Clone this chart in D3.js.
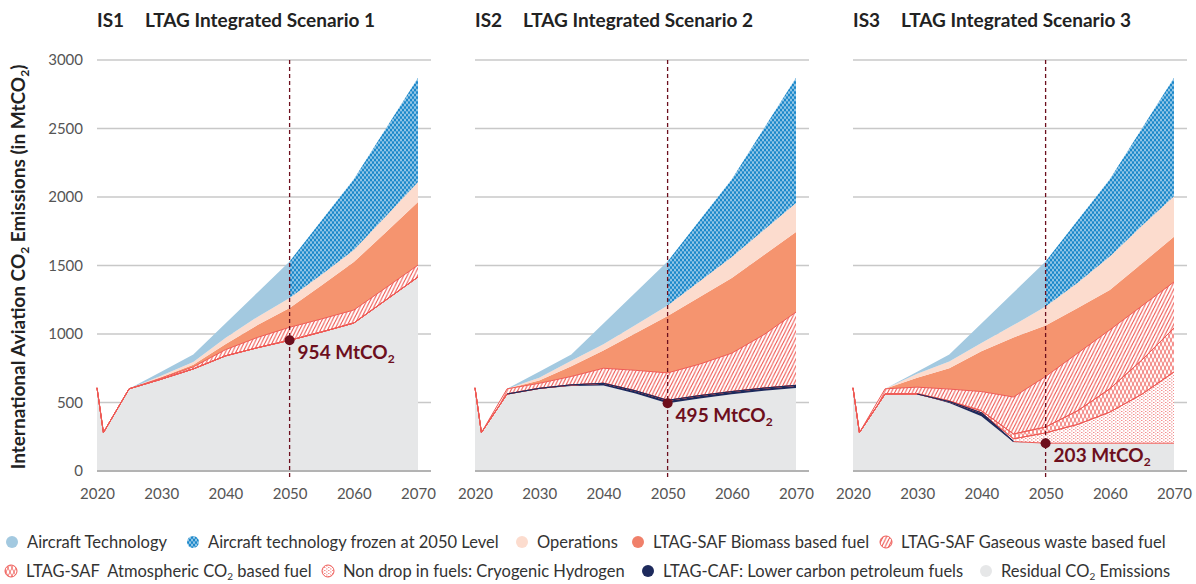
<!DOCTYPE html>
<html>
<head>
<meta charset="utf-8">
<script src="https://cdn.jsdelivr.net/npm/d3@7"></script>
<style>
  body { margin: 0; background: #fff; }
  svg { font-family: Lato, "Open Sans", sans-serif; }
</style>
</head>
<body>
<div id="chart"></div>
<script>
// years on the x axis
const years = [2020, 2021, 2025, 2030, 2035, 2040, 2045, 2050, 2055, 2060, 2065, 2070];

// IS1 layers (MtCO2), stacked bottom -> top
const is1Residual    = [607, 280, 600, 670, 745, 840, 900, 954, 1015, 1080, 1248, 1416];
const is1Caf         = [0, 0, 0, 0, 0, 0, 0, 0, 0, 0, 0, 0];
const is1Hydrogen    = [0, 0, 0, 0, 0, 0, 0, 0, 0, 0, 0, 0];
const is1Atmospheric = [0, 0, 0, 0, 0, 0, 0, 0, 0, 0, 0, 0];
const is1Gaseous     = [0, 0, 0, 8, 15, 45, 75, 95, 95, 95, 90, 87];
const is1Biomass     = [0, 0, 0, 7, 15, 40, 90, 140, 245, 350, 405, 461];
const is1Operations  = [0, 0, 0, 10, 20, 45, 60, 73, 80, 88, 117, 146];
const is1Aircraft    = [0, 0, 0, 30, 55, 107, 178, 268, 395, 517, 640, 760];

// IS2
const is2Residual    = [607, 280, 562, 600, 620, 625, 565, 495, 530, 560, 585, 605];
const is2Caf         = [0, 0, 0, 3, 8, 15, 20, 20, 20, 20, 20, 20];
const is2Hydrogen    = [0, 0, 0, 0, 0, 0, 0, 0, 0, 0, 0, 0];
const is2Atmospheric = [0, 0, 0, 0, 0, 0, 0, 0, 0, 0, 0, 0];
const is2Gaseous     = [0, 0, 38, 37, 62, 110, 150, 201, 230, 280, 390, 535];
const is2Biomass     = [0, 0, 0, 20, 75, 130, 270, 416, 490, 549, 582, 585];
const is2Operations  = [0, 0, 0, 20, 40, 45, 60, 76, 115, 153, 183, 211];
const is2Aircraft    = [0, 0, 0, 45, 45, 152, 238, 322, 445, 568, 740, 914];

// IS3
const is3Residual    = [607, 280, 562, 562, 496, 400, 212, 203, 203, 203, 203, 203];
const is3Caf         = [0, 0, 0, 0, 10, 25, 3, 0, 0, 0, 0, 0];
const is3Hydrogen    = [0, 0, 0, 0, 0, 0, 20, 75, 137, 227, 357, 520];
const is3Atmospheric = [0, 0, 0, 3, 6, 15, 35, 43, 100, 170, 250, 321];
const is3Gaseous     = [0, 0, 38, 47, 86, 140, 270, 369, 420, 430, 395, 336];
const is3Biomass     = [0, 0, 0, 68, 152, 295, 435, 372, 330, 292, 310, 329];
const is3Operations  = [0, 0, 0, 30, 50, 60, 90, 138, 185, 243, 275, 296];
const is3Aircraft    = [0, 0, 0, 15, 50, 142, 238, 330, 455, 565, 710, 865];

const scenarioCodes = ["IS1", "IS2", "IS3"];
const scenarioNames = ["LTAG Integrated Scenario 1", "LTAG Integrated Scenario 2", "LTAG Integrated Scenario 3"];
const residual2050 = [954, 495, 203];
const yTicks = [0, 500, 1000, 1500, 2000, 2500, 3000];
const xTicks = [2020, 2030, 2040, 2050, 2060, 2070];

const legendRow1 = ["Aircraft Technology", "Aircraft technology frozen at 2050 Level", "Operations",
                    "LTAG-SAF Biomass based fuel", "LTAG-SAF Gaseous waste based fuel"];
const legendRow2 = ["LTAG-SAF  Atmospheric CO|2| based fuel", "Non drop in fuels: Cryogenic Hydrogen",
                    "LTAG-CAF: Lower carbon petroleum fuels", "Residual CO|2| Emissions"];

const layerKeys = ["residual", "caf", "hydrogen", "atmospheric", "gaseous", "biomass", "operations", "aircraft"];
const scenarioLayers = [
  [is1Residual, is1Caf, is1Hydrogen, is1Atmospheric, is1Gaseous, is1Biomass, is1Operations, is1Aircraft],
  [is2Residual, is2Caf, is2Hydrogen, is2Atmospheric, is2Gaseous, is2Biomass, is2Operations, is2Aircraft],
  [is3Residual, is3Caf, is3Hydrogen, is3Atmospheric, is3Gaseous, is3Biomass, is3Operations, is3Aircraft]
];

const RED = "#ef5a55", NAVY = "#1d2a5c", MAROON = "#6d0f1d";
const fills = {
  residual: "#e6e7e8", caf: NAVY, hydrogen: "url(#h2)", atmospheric: "url(#atm)",
  gaseous: "url(#gw)", biomass: "#f5946f", operations: "#fcdcce", aircraft: "#a3c9e0"
};

const W = 1196, H = 584;
const svg = d3.select("#chart").append("svg").attr("width", W).attr("height", H);

/* patterns */
const defs = svg.append("defs");
const frozen = defs.append("pattern").attr("id", "frozen").attr("patternUnits", "userSpaceOnUse")
  .attr("width", 4).attr("height", 5);
frozen.append("rect").attr("width", 4).attr("height", 5).attr("fill", "#1b88ca");
[[0, 0], [4, 0], [0, 5], [4, 5], [2, 2.5]].forEach(p =>
  frozen.append("ellipse").attr("cx", p[0]).attr("cy", p[1]).attr("rx", 1).attr("ry", 1.5).attr("fill", "#9ccbe9"));

const gw = defs.append("pattern").attr("id", "gw").attr("patternUnits", "userSpaceOnUse")
  .attr("width", 3.5).attr("height", 7);
gw.append("rect").attr("width", 3.5).attr("height", 7).attr("fill", "#fff");
gw.append("path").attr("d", "M0,7L3.5,0M-3.5,7L0,0M3.5,7L7,0")
  .attr("stroke", RED).attr("stroke-width", 1.1);

const atm = defs.append("pattern").attr("id", "atm").attr("patternUnits", "userSpaceOnUse")
  .attr("width", 4).attr("height", 8);
atm.append("rect").attr("width", 4).attr("height", 8).attr("fill", "#fff");
atm.append("path").attr("d", "M0,8L4,0M-4,8L0,0M4,8L8,0M0,0L4,8M-4,0L0,8M4,0L8,8")
  .attr("stroke", RED).attr("stroke-width", 0.8);

const h2 = defs.append("pattern").attr("id", "h2").attr("patternUnits", "userSpaceOnUse")
  .attr("width", 4).attr("height", 3);
h2.append("rect").attr("width", 4).attr("height", 3).attr("fill", "#fff");
h2.append("rect").attr("x", 0).attr("y", 0).attr("width", 1.5).attr("height", 0.9).attr("fill", "#f28080");
h2.append("rect").attr("x", 2).attr("y", 1.5).attr("width", 1.5).attr("height", 0.9).attr("fill", "#f28080");

/* text with subscripts: parts split by "|" alternate normal/sub */
function subText(sel, str, subSize, shift) {
  str.split("|").forEach((part, i) => {
    const t = sel.append("tspan").text(part);
    if (i % 2 === 1) t.attr("font-size", subSize).attr("dy", shift);
    else if (i > 0) t.attr("dy", -shift);
  });
}

const y = d3.scaleLinear().domain([0, 3000]).range([471, 60]);
const panelLeft = [97, 475, 853];

scenarioCodes.forEach((code, si) => {
  const x = d3.scaleLinear().domain([2020, 2070]).range([0, 321]);
  const g = svg.append("g").attr("transform", `translate(${panelLeft[si]},0)`);

  // title
  g.append("text").attr("x", 0).attr("y", 27).attr("font-size", 19).attr("font-weight", 700)
    .attr("fill", "#222").text(code);
  g.append("text").attr("x", 48).attr("y", 27).attr("font-size", 19).attr("font-weight", 700)
    .attr("fill", "#222").text(scenarioNames[si]);

  // grid
  g.selectAll(".grid").data(yTicks.filter(v => v > 0)).enter().append("line")
    .attr("x1", 0).attr("x2", 334).attr("y1", d => y(d)).attr("y2", d => y(d))
    .attr("stroke", "#c8c8c8").attr("stroke-width", 1.3);

  // stacked data
  const rows = years.map((yr, i) => {
    const r = { year: yr };
    layerKeys.forEach((k, li) => r[k] = scenarioLayers[si][li][i]);
    return r;
  });
  const series = d3.stack().keys(layerKeys)(rows);
  const area = d3.area().x(d => x(d.data.year)).y0(d => y(d[0])).y1(d => y(d[1]));

  series.forEach(s => {
    if (s.key === "aircraft") {
      g.append("path").attr("d", area.defined(d => d.data.year <= 2050)(s)).attr("fill", fills.aircraft);
      g.append("path").attr("d", area.defined(d => d.data.year >= 2050)(s)).attr("fill", "url(#frozen)");
      area.defined(() => true);
    } else {
      g.append("path").attr("d", area(s)).attr("fill", fills[s.key]);
    }
  });

  // red outlines of the hatched fuel layers
  ["hydrogen", "atmospheric", "gaseous"].forEach(k => {
    const s = series.find(d => d.key === k);
    [0, 1].forEach(e => {
      g.append("path").attr("d", d3.line().x(d => x(d.data.year)).y(d => y(d[e]))(s))
        .attr("fill", "none").attr("stroke", RED).attr("stroke-width", 1).attr("stroke-linejoin", "round");
    });
  });

  // navy edge on CAF layer
  const cafS = series.find(d => d.key === "caf");
  const caf = scenarioLayers[si][1];
  g.append("path")
    .attr("d", d3.line().defined((d, i) => caf[i] > 0 || caf[i + 1] > 0)
      .x(d => x(d.data.year)).y(d => y(d[1]))(cafS))
    .attr("fill", "none").attr("stroke", NAVY).attr("stroke-width", 1.2).attr("stroke-linejoin", "round");

  // zero line
  g.append("line").attr("x1", 0).attr("x2", 334).attr("y1", y(0)).attr("y2", y(0))
    .attr("stroke", "#b3b3b3").attr("stroke-width", 2);

  // 2050 marker
  g.append("line").attr("x1", x(2050)).attr("x2", x(2050)).attr("y1", y(3000)).attr("y2", y(0) + 7)
    .attr("stroke", MAROON).attr("stroke-width", 1.3).attr("stroke-dasharray", "4,3");
  g.append("circle").attr("cx", x(2050)).attr("cy", y(residual2050[si])).attr("r", 5).attr("fill", MAROON);
  const lab = g.append("text").attr("x", x(2050) + 8).attr("y", y(residual2050[si]) + 19)
    .attr("font-size", 19).attr("font-weight", 700).attr("fill", MAROON);
  subText(lab, residual2050[si] + " MtCO|2|", 12, 4);

  // x axis
  const xa = g.append("g").attr("transform", `translate(0,${y(0)})`)
    .call(d3.axisBottom(x).tickValues(xTicks).tickFormat(d3.format("d")).tickSize(0).tickPadding(17));
  xa.select(".domain").remove();
  xa.selectAll("text").attr("font-size", 15).attr("fill", "#555").attr("font-family", "Lato, sans-serif");

  if (si === 0) {
    const ya = g.append("g")
      .call(d3.axisLeft(y).tickValues(yTicks).tickFormat(d3.format("d")).tickSize(0).tickPadding(14));
    ya.select(".domain").remove();
    ya.selectAll("text").attr("font-size", 15).attr("fill", "#555").attr("font-family", "Lato, sans-serif");
  }
});

// y axis title
const yt = svg.append("text").attr("transform", "translate(25,267) rotate(-90)")
  .attr("text-anchor", "middle").attr("font-size", 19).attr("font-weight", 700).attr("fill", "#222");
subText(yt, "International Aviation CO|2| Emissions (in MtCO|2|)", 12, 4);

// legend
const legendFills1 = ["#a3c9e0", "url(#frozen)", "#fcdcce", "#f0806a", "url(#gw)"];
const legendFills2 = ["url(#atm)", "url(#h2)", NAVY, "#e6e7e8"];
const legendX1 = [12, 193, 522, 638, 886];
const legendX2 = [11, 328, 648, 986];

function legendRow(labels, colors, xs, yy) {
  labels.forEach((lbl, i) => {
    const hatched = colors[i].startsWith("url") && colors[i] !== "url(#frozen)";
    svg.append("circle").attr("cx", xs[i]).attr("cy", yy).attr("r", 6).attr("fill", colors[i])
      .attr("stroke", hatched ? RED : "none").attr("stroke-width", 1);
    const t = svg.append("text").attr("x", xs[i] + 15).attr("y", yy + 5.5)
      .attr("font-size", 16.5).attr("fill", "#333").style("white-space", "pre");
    subText(t, lbl, 10, 3);
  });
}
legendRow(legendRow1, legendFills1, legendX1, 542);
legendRow(legendRow2, legendFills2, legendX2, 571);
</script>
</body>
</html>
